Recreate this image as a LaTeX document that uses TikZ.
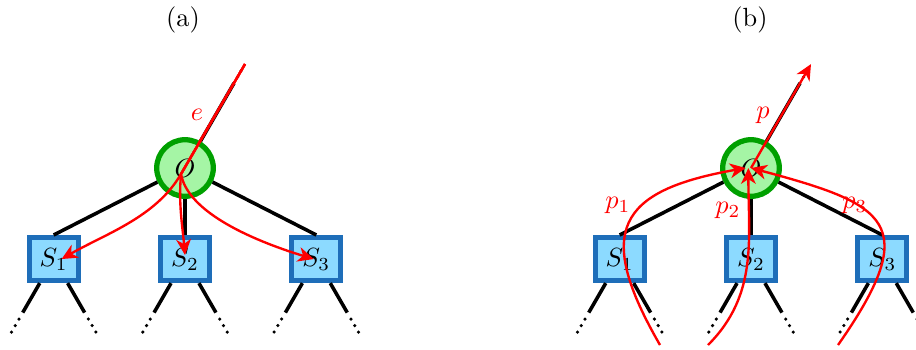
\documentclass[tikz,border=0pt]{standalone}
\usepackage{tikz}
\usetikzlibrary{arrows.meta,positioning}
\definecolor{rootfill}{RGB}{165,245,165}
\definecolor{rootring}{RGB}{0,160,0}
\definecolor{childfill}{RGB}{140,218,255}
\definecolor{childedge}{RGB}{30,110,185}

\begin{document}
\begin{tikzpicture}[x=0.38pt,y=0.38pt, node distance=13.7pt and 29.3pt,
root/.style={circle,draw=rootring,fill=rootfill,line width=2pt,minimum size=21.5pt,inner sep=0pt},
child/.style={draw=childedge,fill=childfill,line width=2pt,minimum width=18.6pt,minimum height=16.3pt,inner sep=0pt},
tree/.style={line width=1.35pt},
dots/.style={line width=1.35pt,line cap=round,dash pattern=on 0pt off 2.85pt},
msg/.style={red,line width=0.9pt,-{Stealth[length=6pt,width=5.6pt,inset=1.8pt]}},
lbl/.style={text=red}]
\useasboundingbox (0,0) rectangle (916,349);
% (a) flooding down
\node (atitle) at (183,329) {(a)};
\node[root] (aO) at (185,181) {$O$};
\node[child,below=of aO] (aS2) {$S_2$};
\node[child,left=of aS2] (aS1) {$S_1$};
\node[child,right=of aS2] (aS3) {$S_3$};
% (b) collecting up
\node (btitle) at (750,329) {(b)};
\node[root] (bO) at (751,181) {$O$};
\node[child,below=of bO] (bS2) {$S_2$};
\node[child,left=of bS2] (bS1) {$S_1$};
\node[child,right=of bS2] (bS3) {$S_3$};
% tree edges
\draw[tree] (aO) -- (aS1.north);
\draw[tree] (aO) -- (aS2.north);
\draw[tree] (aO) -- (aS3.north);
\draw[tree] (bO) -- (bS1.north);
\draw[tree] (bO) -- (bS2.north);
\draw[tree] (bO) -- (bS3.north);
\foreach \r in {aO,bO}{
  \draw[tree] (\r.60) -- ([shift={(60:98)}]\r.center) coordinate (\r-up);
  \draw[dots] ([shift={(60:7)}]\r-up) -- ++(60:8);
}
\foreach \s in {aS1,aS2,aS3,bS1,bS2,bS3}{
  \draw[tree] ([xshift=-5.3pt]\s.south) -- ++(240:34) coordinate (\s-l);
  \draw[tree] ([xshift=5.3pt]\s.south) -- ++(300:34) coordinate (\s-r);
  \draw[dots] ([shift={(240:7.5)}]\s-l) -- ++(240:15.5);
  \draw[dots] ([shift={(300:7.5)}]\s-r) -- ++(300:15.5);
}
% messages
\coordinate (etop) at ([shift={(60:120)}]aO.center);
\coordinate (ej) at ([shift={(-4,-6)}]aO.center);
\coordinate (ptop) at ([shift={(60:120)}]bO.center);
\coordinate (p1s) at (660,4);
\coordinate (p2s) at (708,4);
\coordinate (p3s) at (838,4);
\draw[msg] (etop) -- (ej) .. controls +(240:50) and +(30:50) .. ([xshift=3pt]aS1.center);
\draw[msg] (etop) -- (ej) .. controls +(265:30) and +(95:30) .. ([yshift=1.5pt]aS2.center);
\draw[msg] (etop) -- (ej) .. controls +(280:40) and +(163:60) .. ([xshift=-1pt]aS3.center);
\draw[msg] (bO.center) -- (ptop);
\draw[msg] (p1s) .. controls +(120:131) and +(190:131) .. ([xshift=-2pt]bO.center);
\draw[msg] (p2s) .. controls +(45:71) and +(270:71) .. ([xshift=-1pt]bO.center);
\draw[msg] (p3s) .. controls +(55:150) and +(-15:140) .. (bO.center);
\node[lbl] (lbe) at (197,234) {$e$};
\node[lbl] (lbp) at (763,234) {$p$};
\node[lbl] (lbp1) at (618,144) {$p_1$};
\node[lbl] (lbp2) at (728,139) {$p_2$};
\node[lbl] (lbp3) at (855,144) {$p_3$};
\end{tikzpicture}
\end{document}
